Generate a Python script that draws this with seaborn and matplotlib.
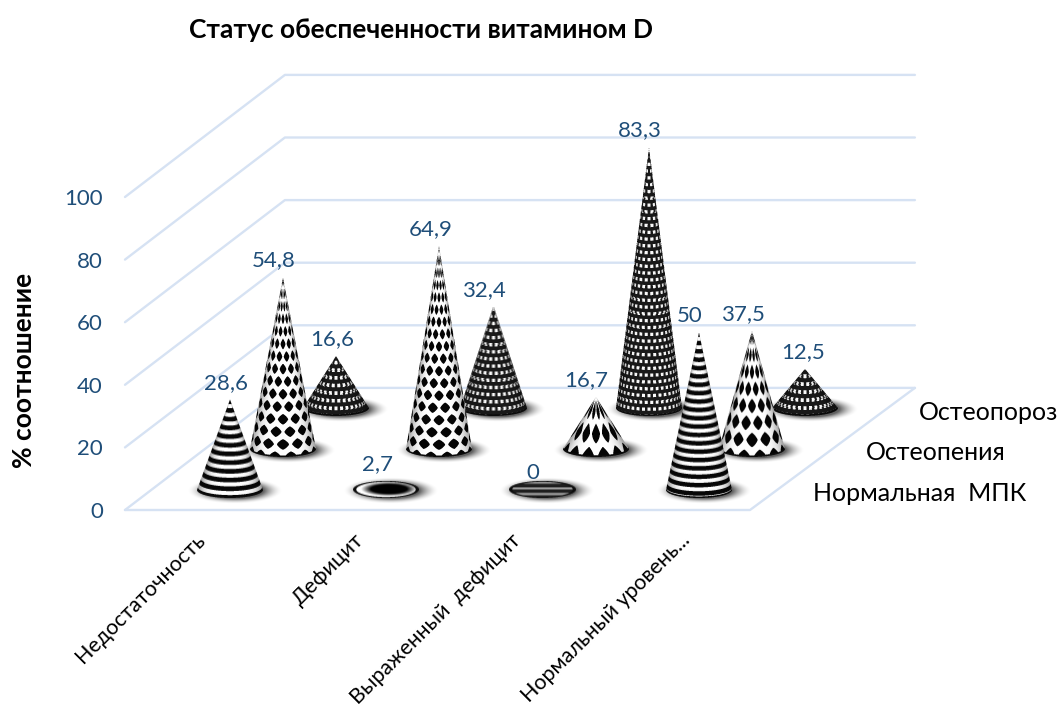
import numpy as np
import matplotlib
matplotlib.use('Agg')
import matplotlib.pyplot as plt
import seaborn as sns

title = 'Статус обеспеченности витамином D'
y_title = '% соотношение'
categories = ['Недостаточность', 'Дефицит', 'Выраженный  дефицит', 'Нормальный уровень...']
series_names = ['Нормальная  МПК', 'Остеопения', 'Остеопороз']
normal = [28.6, 2.7, 0, 50]
osteopenia = [54.8, 64.9, 16.7, 37.5]
osteoporosis = [16.6, 32.4, 83.3, 12.5]
y_ticks = [0, 20, 40, 60, 80, 100]

BLUE = '#1F4E79'
GRID = '#D6E2F3'
W, H = 1061, 709

# scale of the oblique box, pixels per category / per value / per depth slot
CAT_PX = 156.25
VAL_PX = 3.13
DEPTH_X = 53.3
DEPTH_Y = 40.7
LEFT = 125
FLOOR = 510
R_BASE = 33.0
R_Y = 8.0


def depth_xy(depth):
    return depth * DEPTH_X / CAT_PX, depth * DEPTH_Y / VAL_PX


def downsample(gray, alpha, ss):
    rows = gray.shape[0] // ss
    cols = gray.shape[1] // ss
    g = (gray * alpha).reshape(rows, ss, cols, ss).mean(axis=(1, 3))
    a = alpha.reshape(rows, ss, cols, ss).mean(axis=(1, 3))
    g = g / np.maximum(a, 1e-6)
    return np.dstack([g, g, g, a])


def stripes(h, theta, s, height, y):
    return np.where(((height - h) / 7.9) % 1 < 0.54, 0.03, 1.0)


def diamonds(h, theta, s, height, y):
    period = max(11.8, 24 - 0.07 * height)
    v = h / period + 0.5
    row = np.floor(v)
    dv = v - row - 0.5
    u = theta / 0.50 + 0.5 * (row % 2)
    du = u - np.floor(u) - 0.5
    inside = (np.abs(du) / 0.40) ** 1.3 + (np.abs(dv) / 0.42) ** 1.3 < 1
    return np.where(inside, 0.02, 1.0)


def dots(h, theta, s, height, y):
    period = 6.6
    v = h / period + 0.5
    row = np.floor(v)
    dv = v - row - 0.5
    n = np.maximum(1, np.round(R_BASE * s * np.pi / 5.6))
    u = theta / (np.pi / n) + 0.5 * (row % 2)
    du = u - np.floor(u) - 0.5
    inside = (np.abs(du) < 0.27) & (np.abs(dv) < 0.24)
    return np.where(inside, 0.98, 0.1)


def cone_rgba(height, pattern, ss=4):
    xs = (np.arange(int(2 * (R_BASE + 1)) * ss) + 0.5) / ss - (R_BASE + 1)
    top = int(np.ceil(max(height, R_Y))) + 1
    bottom = int(R_Y) + 2
    ys = (np.arange((top + bottom) * ss) + 0.5) / ss - top
    x, y = np.meshgrid(xs, ys)
    k = R_Y / R_BASE
    if height < 10:
        # nearly flat cones are only a disc
        d = np.sqrt((x / R_BASE) ** 2 + (y / R_Y) ** 2)
        inside = d <= 1
        if height < 1:
            gray = np.where((y / 5.4) % 1 < 0.62, 0.12, 0.62)
        else:
            core = np.sqrt(((x - 3) / R_BASE) ** 2 + ((y + 0.5) / R_Y) ** 2)
            gray = np.clip((core - 0.55) / 0.3, 0, 1)
        gray = np.where(d > 0.9, 0.05, gray)
        return downsample(gray, inside.astype(float), ss), top, bottom

    target = y + height
    lo = np.minimum(np.abs(x) / R_BASE, 1)
    hi = np.ones_like(x)
    f = lambda q: height * q + k * np.sqrt(np.maximum((R_BASE * q) ** 2 - x ** 2, 0))
    inside = (target >= f(lo)) & (target <= f(hi)) & (np.abs(x) <= R_BASE)
    for _ in range(24):
        mid = (lo + hi) / 2
        above = f(mid) < target
        lo = np.where(above, mid, lo)
        hi = np.where(above, hi, mid)
    s = np.maximum((lo + hi) / 2, 1e-4)
    theta = np.arcsin(np.clip(x / (R_BASE * s), -1, 1))
    h = height * (1 - s)
    gray = pattern(h, theta, s, height, y).astype(float)
    shade = 1 - 0.38 * np.abs(np.sin(theta)) ** 5
    gray = gray * shade
    gray = np.where(s > 1 - 1.5 / max(height, 8), 0.04, gray)
    return downsample(gray, inside.astype(float), ss), top, bottom


def shadow_rgba():
    xs = np.arange(-70, 70) + 0.5
    ys = np.arange(-24, 24) + 0.5
    x, y = np.meshgrid(xs, ys)
    d = np.sqrt(((x - 5) / (R_BASE + 15)) ** 2 + ((y - 1) / (R_Y + 5)) ** 2)
    alpha = np.clip((1 - d) / 0.4, 0, 1) ** 1.8 * 0.62
    return np.dstack([np.zeros_like(x), np.zeros_like(x), np.zeros_like(x), alpha])


def put_image(ax, rgba, cx, cy, half_px, top_px, bottom_px):
    ax.imshow(rgba, extent=[cx - half_px / CAT_PX, cx + half_px / CAT_PX,
                            cy - bottom_px / VAL_PX, cy + top_px / VAL_PX],
              aspect='auto', interpolation='bilinear', origin='upper', zorder=3)


sns.set_theme(style='white')
plt.rcParams['font.family'] = ['Lato', 'Noto Sans', 'DejaVu Sans']

fig = plt.figure(figsize=(W / 100, H / 100), dpi=100)
ax = fig.add_axes([0, 0, 1, 1])

# box: walls and floor
n_cat = len(categories)
n_depth = len(series_names)
back_x, back_y = depth_xy(n_depth)
back_end = n_cat + back_x + 5 / CAT_PX
for v in y_ticks:
    sns.lineplot(x=[0, back_x, back_end], y=[v, v + back_y, v + back_y], sort=False,
                 color=GRID, linewidth=1.7, ax=ax, zorder=1)
sns.lineplot(x=[0, n_cat, back_end], y=[0, 0, back_y], sort=False,
             color=GRID, linewidth=1.7, ax=ax, zorder=1)

# cones go back to front, left to right
all_series = [normal, osteopenia, osteoporosis]
patterns = [stripes, diamonds, dots]
label_nudge = {(0, 0): -4, (2, 3): -2, (2, 0): -4}
shadow = shadow_rgba()
half = int(2 * (R_BASE + 1)) / 2
for d in reversed(range(n_depth)):
    dx, dy = depth_xy(d + 0.5)
    for i, val in enumerate(all_series[d]):
        cx = i + 0.5 + dx
        cy = dy
        put_image(ax, shadow, cx, cy, 70, 24, 24)
        rgba, top, bottom = cone_rgba(val * VAL_PX, patterns[d])
        put_image(ax, rgba, cx, cy, half, top, bottom)
        ax.text(cx + label_nudge.get((d, i), -9) / CAT_PX, val + cy + 17 / VAL_PX, f'{val:g}'.replace('.', ','),
                color=BLUE, fontsize=16, ha='center', va='center', zorder=5)

# axis texts
for v in y_ticks:
    ax.text(-22 / CAT_PX, v - 2 / VAL_PX, str(v), color=BLUE, fontsize=16, ha='right', va='center')
cat_nudge = [-6, -4, -3, 10]
for i, name in enumerate(categories):
    ax.text(i + 0.5 + (5 + cat_nudge[i]) / CAT_PX, -27 / VAL_PX, name, color='black', fontsize=15.4, rotation=45,
            rotation_mode='anchor', ha='right', va='center')
for d, name in enumerate(series_names):
    dx, dy = depth_xy(d + 0.5)
    ax.text(n_cat + dx + 36 / CAT_PX, dy - 4 / VAL_PX, name, color='black', fontsize=18, ha='left', va='center')

ax.text((24 - LEFT) / CAT_PX, (FLOOR - 370) / VAL_PX, y_title, color='black', fontsize=19, fontweight='bold',
        rotation=90, ha='center', va='center')
ax.text((421 - LEFT) / CAT_PX, (FLOOR - 30) / VAL_PX, title, color='black', fontsize=19, fontweight='bold',
        ha='center', va='center')

ax.set_xlim(-LEFT / CAT_PX, (W - LEFT) / CAT_PX)
ax.set_ylim((FLOOR - H) / VAL_PX, FLOOR / VAL_PX)
ax.axis('off')
fig.savefig('out.png', dpi=100, facecolor='white')
